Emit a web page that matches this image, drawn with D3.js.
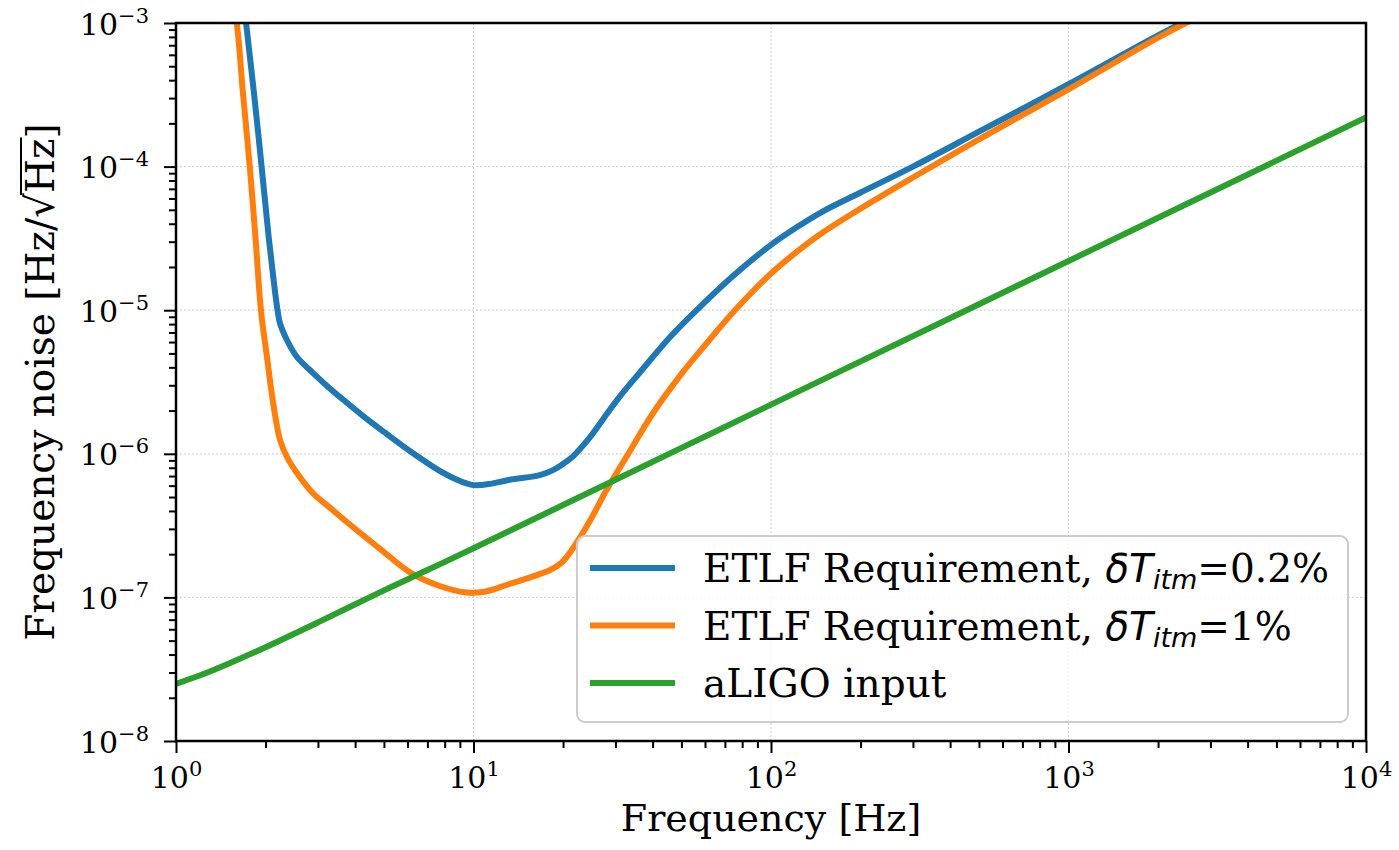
<!DOCTYPE html>
<html>
<head>
<meta charset="utf-8">
<script src="https://cdn.jsdelivr.net/npm/d3@7"></script>
<style>
  body { margin: 0; background: #fff; }
  text { font-family: "DejaVu Serif", serif; fill: #000; }
</style>
</head>
<body>
<svg id="chart" width="1399" height="850"></svg>
<script>
// ---- data (frequency in Hz, noise in Hz/sqrt(Hz)) ----
const blueFreq  = [1.70, 1.72, 1.83, 1.94, 2.05, 2.12, 2.18, 2.237, 2.36, 2.55, 2.89, 3.29, 3.76, 4.3, 5.0, 6.3, 7.7, 8.8, 10, 11.5, 13, 16.7, 18.5, 20, 21.6, 24.6, 27.3, 31, 36.3, 45.8, 57.6, 75, 100, 125, 150, 200, 300, 500, 1000, 2000, 2500];
const blueNoise = [1.25e-3, 1e-3, 3.2e-4, 1e-4, 3.2e-5, 1.75e-5, 1.1e-5, 8.1e-6, 6.2e-6, 4.72e-6, 3.65e-6, 2.85e-6, 2.26e-6, 1.8e-6, 1.42e-6, 1.0e-6, 7.6e-7, 6.6e-7, 6.05e-7, 6.2e-7, 6.55e-7, 7.1e-7, 7.7e-7, 8.5e-7, 9.6e-7, 1.3e-6, 1.75e-6, 2.5e-6, 3.7e-6, 6.5e-6, 1.05e-5, 1.75e-5, 2.85e-5, 3.9e-5, 4.9e-5, 6.6e-5, 1.0e-4, 1.75e-4, 3.75e-4, 8.2e-4, 1.04e-3];

const orangeFreq  = [1.55, 1.60, 1.68, 1.77, 1.85, 1.93, 2.02, 2.10, 2.18, 2.237, 2.36, 2.55, 2.89, 3.29, 3.76, 4.85, 6.1, 7.7, 9.5, 11, 12.9, 18.1, 19.8, 21.6, 24.6, 28, 33.6, 40, 50, 60, 75, 100, 125, 150, 200, 300, 500, 1000, 2000, 2600];
const orangeNoise = [1.4e-3, 1e-3, 3.2e-4, 1e-4, 3.2e-5, 1e-5, 4.8e-6, 2.6e-6, 1.6e-6, 1.25e-6, 9.5e-7, 7.35e-7, 5.3e-7, 4.22e-7, 3.34e-7, 2.18e-7, 1.5e-7, 1.2e-7, 1.08e-7, 1.1e-7, 1.22e-7, 1.55e-7, 1.75e-7, 2.2e-7, 3.4e-7, 5.6e-7, 1.05e-6, 1.9e-6, 3.6e-6, 5.7e-6, 9.8e-6, 1.8e-5, 2.65e-5, 3.5e-5, 5.1e-5, 8.4e-5, 1.55e-4, 3.45e-4, 7.9e-4, 1.05e-3];

const greenFreq  = [1, 1.25, 1.5, 2, 3, 5, 7, 10, 20, 50, 100, 1000, 10000];
const greenNoise = [2.5e-8, 2.95e-8, 3.45e-8, 4.5e-8, 6.7e-8, 1.12e-7, 1.55e-7, 2.2e-7, 4.4e-7, 1.1e-6, 2.2e-6, 2.2e-5, 2.2e-4];

const xMajor = [1, 10, 100, 1000, 10000];
const yMajor = [1e-8, 1e-7, 1e-6, 1e-5, 1e-4, 1e-3];
const xExp = [0, 1, 2, 3, 4];
const yExp = [-8, -7, -6, -5, -4, -3];

const seriesNames = ["blue", "orange", "green"];
const seriesColors = ["#1f77b4", "#ff7f0e", "#2ca02c"];
const legendValues = ["0.2%", "1%", null];

const series = [
    { name: "blue",   f: blueFreq,   v: blueNoise },
    { name: "orange", f: orangeFreq, v: orangeNoise },
    { name: "green",  f: greenFreq,  v: greenNoise }
];

// ---- layout ----
const plotLeft = 176, plotRight = 1366, plotTop = 23, plotBottom = 741;

const x = d3.scaleLog().domain([1, 1e4]).range([plotLeft, plotRight]);
const y = d3.scaleLog().domain([1e-8, 1e-3]).range([plotBottom, plotTop]);

const minorOf = (majors) => {
    const out = [];
    majors.slice(0, -1).forEach(m => { for (let k = 2; k < 10; k++) out.push(m * k); });
    return out;
};

const svg = d3.select("#chart");

svg.append("defs").append("clipPath").attr("id", "plotclip")
    .append("rect").attr("x", plotLeft).attr("y", plotTop)
    .attr("width", plotRight - plotLeft).attr("height", plotBottom - plotTop);

// grid
const grid = svg.append("g").attr("stroke", "#d4d4d4").attr("stroke-width", 1.2).attr("stroke-dasharray", "2,2");
grid.selectAll("line.gx").data(xMajor.slice(1, -1)).enter().append("line")
    .attr("x1", d => x(d)).attr("x2", d => x(d)).attr("y1", plotTop).attr("y2", plotBottom);
grid.selectAll("line.gy").data(yMajor.slice(1, -1)).enter().append("line")
    .attr("y1", d => y(d)).attr("y2", d => y(d)).attr("x1", plotLeft).attr("x2", plotRight);

// curves
const line = d3.line()
    .x(d => x(d[0]))
    .y(d => y(d[1]))
    .curve(d3.curveCatmullRom.alpha(0.5));

svg.append("g").attr("clip-path", "url(#plotclip)")
    .selectAll("path").data(series).enter().append("path")
    .attr("d", s => line(s.f.map((f, i) => [f, s.v[i]])))
    .attr("fill", "none")
    .attr("stroke", (s, i) => seriesColors[i])
    .attr("stroke-width", 6)
    .attr("stroke-linejoin", "round");

// axes
const styleAxis = g => {
    g.select(".domain").remove();
    g.selectAll(".tick line").attr("stroke", "#000").attr("stroke-width", 2);
};

svg.append("g").attr("transform", `translate(0,${plotBottom})`)
    .call(d3.axisBottom(x).tickValues(minorOf(xMajor)).tickSize(7).tickFormat(""))
    .call(styleAxis);
svg.append("g").attr("transform", `translate(${plotLeft},0)`)
    .call(d3.axisLeft(y).tickValues(minorOf(yMajor)).tickSize(7).tickFormat(""))
    .call(styleAxis);

const xAxis = svg.append("g").attr("transform", `translate(0,${plotBottom})`)
    .call(d3.axisBottom(x).tickValues(xMajor).tickSize(12).tickFormat(""))
    .call(styleAxis);
xAxis.selectAll(".tick text").each(function (d, i) {
    const t = d3.select(this).attr("y", 47).attr("dy", null)
        .attr("font-size", 30).attr("text-anchor", "middle");
    t.append("tspan").text("10");
    t.append("tspan").attr("font-size", 21).attr("dy", -12).text(xExp[i]);
});

const yAxis = svg.append("g").attr("transform", `translate(${plotLeft},0)`)
    .call(d3.axisLeft(y).tickValues(yMajor).tickSize(12).tickFormat(""))
    .call(styleAxis);
yAxis.selectAll(".tick text").each(function (d, i) {
    const t = d3.select(this).attr("x", -27).attr("y", 11).attr("dy", null)
        .attr("font-size", 30).attr("text-anchor", "end");
    t.append("tspan").text("10");
    t.append("tspan").attr("font-size", 21).attr("dy", -12).text("\u2212" + Math.abs(yExp[i]));
});

// frame
svg.append("rect").attr("x", plotLeft).attr("y", plotTop)
    .attr("width", plotRight - plotLeft).attr("height", plotBottom - plotTop)
    .attr("fill", "none").attr("stroke", "#000").attr("stroke-width", 2.5);

// axis titles
svg.append("text").attr("x", (plotLeft + plotRight) / 2).attr("y", 831)
    .attr("text-anchor", "middle").attr("font-size", 38)
    .text("Frequency [Hz]");

const yl = svg.append("g").attr("transform", "translate(54,382) rotate(-90)");
const ylt = yl.append("text").attr("text-anchor", "middle").attr("font-size", 39);
ylt.append("tspan").text("Frequency noise [Hz/");
ylt.append("tspan").attr("font-family", "DejaVu Sans").text("\u221A");
ylt.append("tspan").text("Hz");
ylt.append("tspan").text("]");
{
    const node = ylt.node();
    const n = node.getNumberOfChars();
    const sq = n - 4;                      // index of the radical
    const x0 = node.getEndPositionOfChar(sq).x - 2;
    const x1 = node.getEndPositionOfChar(n - 2).x + 1;
    yl.append("line").attr("x1", x0).attr("x2", x1).attr("y1", -33).attr("y2", -33)
        .attr("stroke", "#000").attr("stroke-width", 2);
}

// legend
const lg = svg.append("g");
lg.append("rect").attr("x", 577).attr("y", 536).attr("width", 771).attr("height", 186)
    .attr("rx", 8).attr("fill", "#fff").attr("fill-opacity", 0.8)
    .attr("stroke", "#cccccc").attr("stroke-width", 2);

const rowY = d3.scalePoint().domain(seriesNames).range([568, 683]);
seriesNames.forEach((name, i) => {
    const yy = rowY(name);
    lg.append("line").attr("x1", 590).attr("x2", 675).attr("y1", yy).attr("y2", yy)
        .attr("stroke", seriesColors[i]).attr("stroke-width", 6);
    const t = lg.append("text").attr("x", 703).attr("y", yy + 14).attr("font-size", 39);
    if (legendValues[i]) {
        t.append("tspan").text("ETLF Requirement, ");
        t.append("tspan").attr("font-family", "DejaVu Sans").attr("font-style", "italic").text("\u03B4T");
        t.append("tspan").attr("font-family", "DejaVu Sans").attr("font-style", "italic")
            .attr("font-size", 27).attr("dy", 7).text("itm");
        t.append("tspan").attr("dy", -7).text("=" + legendValues[i]);
    } else {
        t.text("aLIGO input");
    }
});
</script>
</body>
</html>
